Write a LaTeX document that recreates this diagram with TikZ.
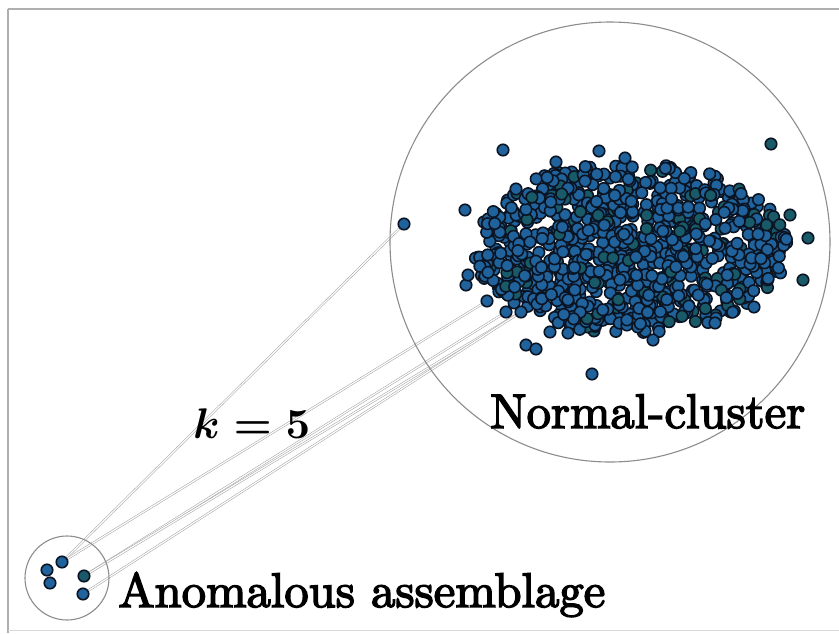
\documentclass[tikz,border=0pt]{standalone}
\usepackage{graphicx}
\usepackage{fontspec}
\newfontfamily\lblfont[FakeBold=3]{Latin Modern Roman}
\usetikzlibrary{backgrounds}
\definecolor{dotfill}{RGB}{32,98,155}
\definecolor{dotfillb}{RGB}{25,90,105}
\definecolor{dotedge}{RGB}{10,20,35}
\definecolor{ringgray}{RGB}{140,140,140}
\definecolor{framegray}{RGB}{175,175,175}
\tikzset{
  pt/.style={circle, fill=dotfill, draw=dotedge, line width=1.6pt, inner sep=0pt, minimum size=11.5pt},
  ptb/.style={pt, fill=dotfillb},
  ring/.style={draw=ringgray, line width=1.1pt},
  knn/.style={draw=black!35, line width=0.55pt, double=white, double distance=1.2pt},
  lbl/.style={inner sep=0pt, font=\lblfont}
}
\begin{document}
\begin{tikzpicture}[x=1pt,y=-1pt]
\useasboundingbox (0,0) rectangle (839,633);
% frame
\draw[framegray, line width=2.6pt] (8,9) -- (839,9);
\draw[framegray, line width=2.6pt] (8,9) -- (8,633);
\draw[black!15, line width=1pt] (8,630) -- (839,630);
% rings
\node[ring, circle, minimum size=440pt, inner sep=0pt] (big) at (610,242) {};
\node[ring, circle, minimum size=84pt, inner sep=0pt] (small) at (67,578) {};
% cluster
\pgfmathsetseed{11}
\foreach \i in {1,...,950}{
  \pgfmathsetmacro{\rr}{pow(rnd,0.6)}
  \pgfmathsetmacro{\vv}{rnd}
  \pgfmathsetmacro{\px}{630+158*\rr*cos(360*\vv)}
  \pgfmathsetmacro{\py}{248+86*\rr*sin(360*\vv)}
  \pgfmathsetmacro{\sel}{rnd}
  \ifdim\sel pt<0.15pt
    \node[ptb] (c\i) at (\px,\py) {};
  \else
    \node[pt] (c\i) at (\px,\py) {};
  \fi
}
% outliers around the cluster
\node[pt] (o1) at (404,224) {};
\node[pt] (o2) at (503,150) {};
\node[pt] (o3) at (599,151) {};
\node[ptb] (o4) at (771,144) {};
\node[pt] (o5) at (592,374) {};
\node[ptb] (o6) at (803,280) {};
\node[pt] (o7) at (754,307) {};
\node[pt] (o8) at (526,345) {};
\node[pt] (o9) at (536,349) {};
\node[pt] (o10) at (465,210) {};
\node[pt] (o11) at (516,189) {};
\node[ptb] (o12) at (808,238) {};
\node[pt] (o13) at (466,285) {};
\node[pt] (o14) at (550,332) {};
\node[pt] (o15) at (568,333) {};
\node[pt] (o16) at (653,340) {};
\node[pt] (o17) at (715,323) {};
\node[ptb] (o18) at (790,215) {};
\node[pt] (o19) at (556,162) {};
\node[pt] (o20) at (625,158) {};
% lower-left members of the cluster
\node[pt] (e1) at (468,275) {};
\node[pt] (e2) at (487,301) {};
\node[pt] (e3) at (506,312) {};
\node[pt] (e4) at (521,312) {};
% anomalous points
\node[pt] (a1) at (62,562) {};
\node[pt] (a2) at (47,570) {};
\node[pt] (a3) at (50,583) {};
\node[ptb] (a4) at (84,576) {};
\node[pt] (a5) at (83,594) {};
% k-NN connectors
\begin{pgfonlayer}{background}
\draw[knn] (a1) -- (o1);
\draw[knn] (a1) -- (e2);
\draw[knn] (a4) -- (e3);
\draw[knn] (a4) -- (e4);
\draw[knn] (a5) -- (e4);
\end{pgfonlayer}
% labels
\node[lbl, anchor=base west] (nc) at (490,428) {\resizebox{315pt}{!}{Normal-cluster}};
\node[lbl, anchor=base west] (aa) at (118,607) {\resizebox{487pt}{!}{Anomalous assemblage}};
\node[lbl, anchor=base west] (kk) at (193,438) {\resizebox{117pt}{!}{\boldmath$k=\mathbf{5}$}};
\end{tikzpicture}
\end{document}
